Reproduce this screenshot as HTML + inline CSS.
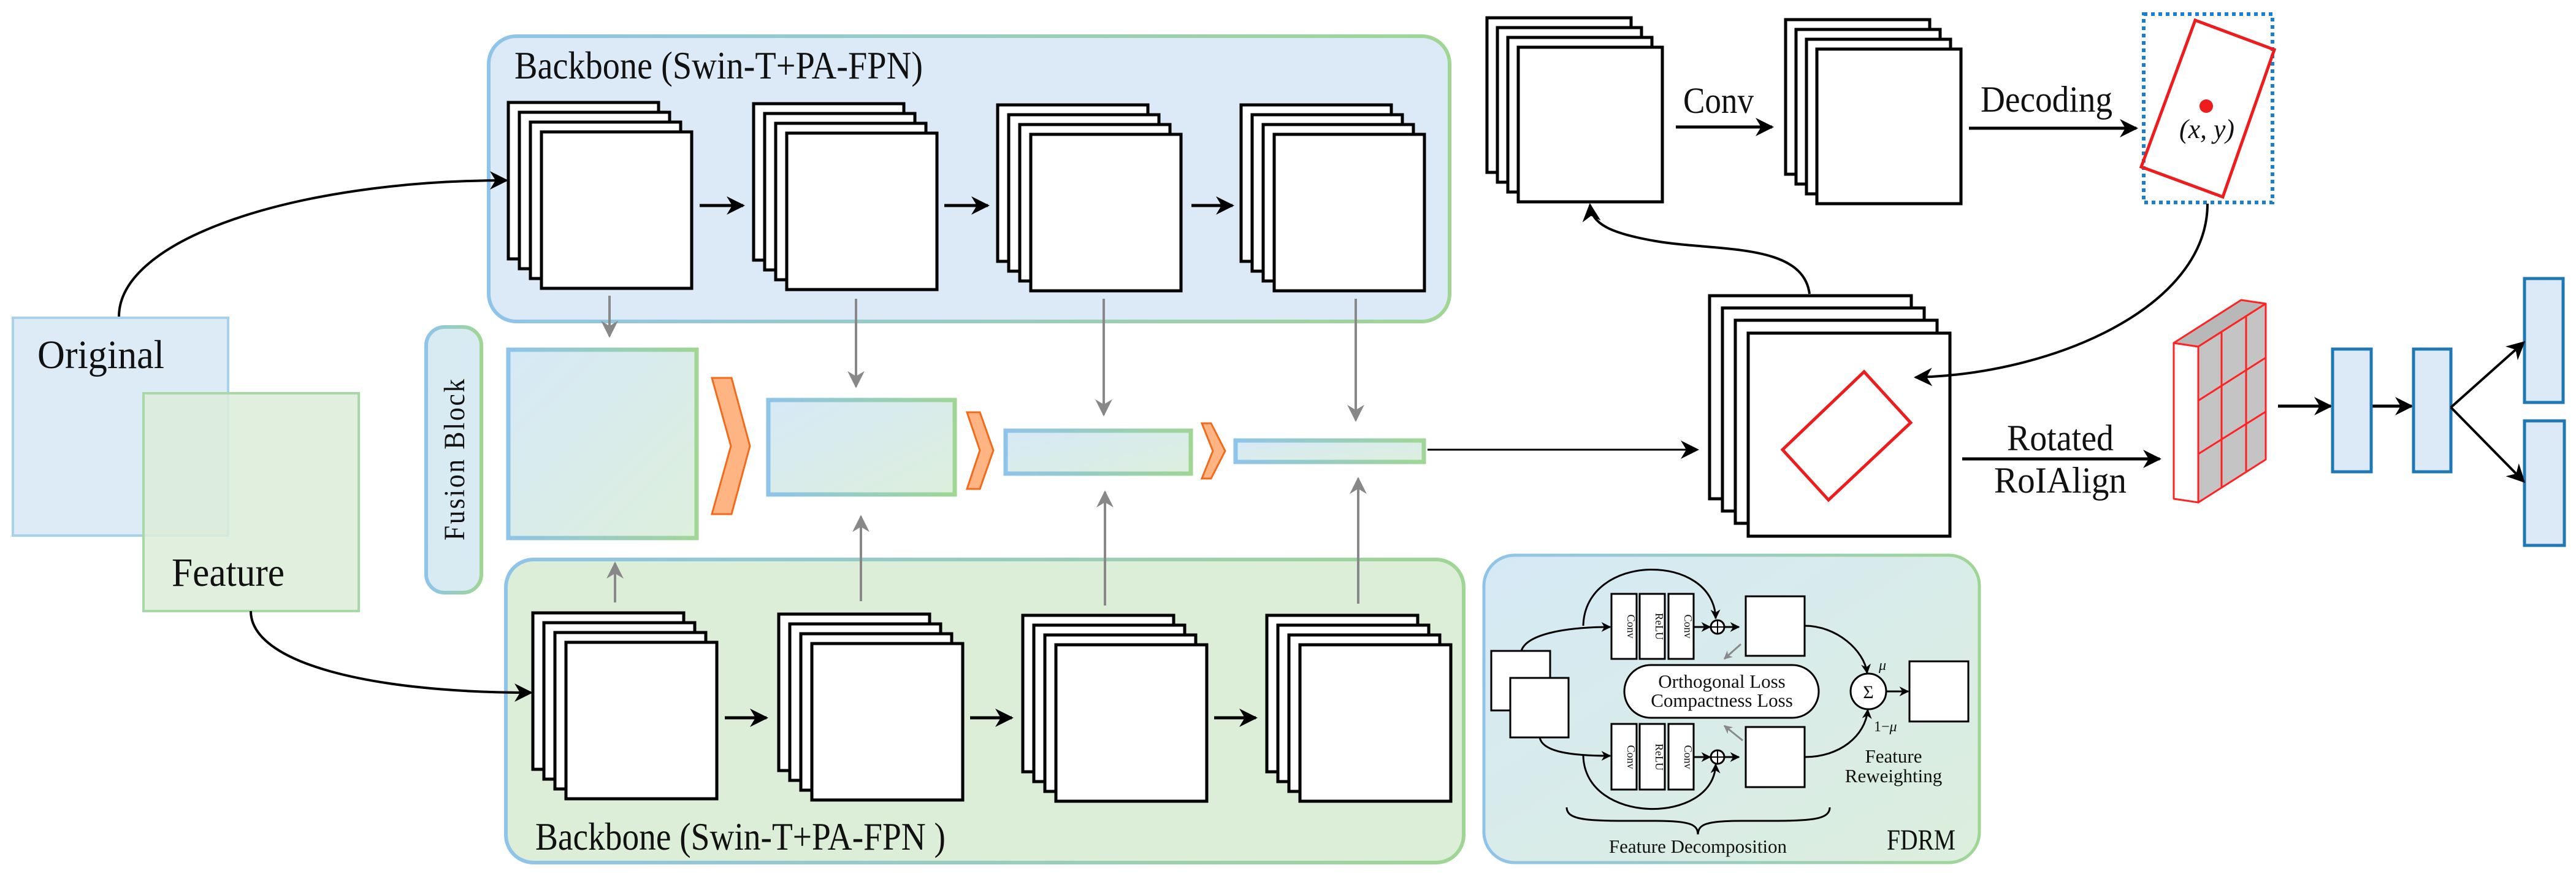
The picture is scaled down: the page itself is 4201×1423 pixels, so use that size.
<!DOCTYPE html>
<html><head><meta charset="utf-8"><style>
html,body{margin:0;padding:0;background:#fff;}
svg{display:block;}
svg text{font-family:"Liberation Serif","DejaVu Serif",serif;fill:#111;}
</style></head><body>
<svg width="4201" height="1423" viewBox="0 0 4201 1423" xmlns="http://www.w3.org/2000/svg" font-family="'Liberation Serif', 'DejaVu Serif', serif">
<defs>
<linearGradient id="bg" x1="0" y1="0" x2="1" y2="0"><stop offset="0" stop-color="#8fc4ea"/><stop offset="1" stop-color="#9fd694"/></linearGradient>
<linearGradient id="fillF" x1="0" y1="0" x2="1" y2="1"><stop offset="0" stop-color="#d6e9f7"/><stop offset="1" stop-color="#ddefdc"/></linearGradient>
<linearGradient id="fdrm" x1="0" y1="0" x2="1" y2="1"><stop offset="0" stop-color="#d5e9f6"/><stop offset="1" stop-color="#dceedc"/></linearGradient>
<marker id="ahb" viewBox="0 0 10 10" refX="9" refY="5" markerWidth="30" markerHeight="30" orient="auto" markerUnits="userSpaceOnUse"><path d="M0,0 L10,5 L0,10 L3,5 z" fill="#000"/></marker>
<marker id="ahs" viewBox="0 0 10 10" refX="9" refY="5" markerWidth="16" markerHeight="16" orient="auto" markerUnits="userSpaceOnUse"><path d="M0,0 L10,5 L0,10 L3,5 z" fill="#000"/></marker>
<marker id="ahg" viewBox="0 0 10 10" refX="9" refY="5" markerWidth="28" markerHeight="28" orient="auto" markerUnits="userSpaceOnUse"><path d="M0,0 L10,5 L0,10 L3,5 z" fill="#888"/></marker>
<marker id="ahgs" viewBox="0 0 10 10" refX="9" refY="5" markerWidth="14" markerHeight="14" orient="auto" markerUnits="userSpaceOnUse"><path d="M0,0 L10,5 L0,10 L3,5 z" fill="#888"/></marker>
</defs>

<rect x="797" y="59" width="1567" height="465" rx="45" fill="#dbeaf6" stroke="url(#bg)" stroke-width="6"/>
<rect x="825" y="912" width="1562" height="494" rx="45" fill="#dcedd8" stroke="url(#bg)" stroke-width="6"/>
<text x="839" y="128" font-size="64" textLength="666" lengthAdjust="spacingAndGlyphs">Backbone (Swin-T+PA-FPN)</text>
<text x="873" y="1385" font-size="64" textLength="669" lengthAdjust="spacingAndGlyphs">Backbone (Swin-T+PA-FPN )</text>

<g fill="#fff" stroke="#000" stroke-width="5">
<rect x="829" y="167" width="245" height="255"/><rect x="847" y="183" width="245" height="255"/><rect x="865" y="199" width="245" height="255"/><rect x="883" y="215" width="245" height="255"/>
<rect x="1229" y="169" width="245" height="255"/><rect x="1247" y="185" width="245" height="255"/><rect x="1265" y="201" width="245" height="255"/><rect x="1283" y="217" width="245" height="255"/>
<rect x="1627" y="171" width="245" height="255"/><rect x="1645" y="187" width="245" height="255"/><rect x="1663" y="203" width="245" height="255"/><rect x="1681" y="219" width="245" height="255"/>
<rect x="2024" y="171" width="245" height="255"/><rect x="2042" y="187" width="245" height="255"/><rect x="2060" y="203" width="245" height="255"/><rect x="2078" y="219" width="245" height="255"/>
<rect x="869" y="999" width="246" height="255"/><rect x="887" y="1015" width="246" height="255"/><rect x="905" y="1031" width="246" height="255"/><rect x="923" y="1047" width="246" height="255"/>
<rect x="1270" y="1001" width="246" height="255"/><rect x="1288" y="1017" width="246" height="255"/><rect x="1306" y="1033" width="246" height="255"/><rect x="1324" y="1049" width="246" height="255"/>
<rect x="1668" y="1003" width="246" height="255"/><rect x="1686" y="1019" width="246" height="255"/><rect x="1704" y="1035" width="246" height="255"/><rect x="1722" y="1051" width="246" height="255"/>
<rect x="2066" y="1003" width="246" height="255"/><rect x="2084" y="1019" width="246" height="255"/><rect x="2102" y="1035" width="246" height="255"/><rect x="2120" y="1051" width="246" height="255"/>
</g>
<g stroke="#000" stroke-width="5" marker-end="url(#ahb)">
<line x1="1141" y1="335" x2="1212" y2="335"/><line x1="1540" y1="335" x2="1611" y2="335"/><line x1="1943" y1="335" x2="2010" y2="335"/>
<line x1="1182" y1="1170" x2="1250" y2="1170"/><line x1="1582" y1="1170" x2="1650" y2="1170"/><line x1="1980" y1="1170" x2="2048" y2="1170"/>
</g>

<rect x="21" y="518" width="351" height="355" fill="#dcebf6" stroke="#a8d2ec" stroke-width="4"/>
<rect x="234" y="641" width="351" height="355" fill="#dcedd8" fill-opacity="0.85" stroke="#a6d9a6" stroke-width="4"/>
<text x="61" y="600" font-size="66" textLength="207" lengthAdjust="spacingAndGlyphs">Original</text>
<text x="280" y="955" font-size="66" textLength="184" lengthAdjust="spacingAndGlyphs">Feature</text>
<path d="M194,516 C194,390 480,294 826,294" fill="none" stroke="#000" stroke-width="4" marker-end="url(#ahb)"/>
<path d="M409,996 C409,1080 600,1129 866,1129" fill="none" stroke="#000" stroke-width="4" marker-end="url(#ahb)"/>

<rect x="695" y="533" width="90" height="433" rx="30" fill="#d9ebf2" stroke="url(#bg)" stroke-width="6"/>
<text x="0" y="0" font-size="48" letter-spacing="3" text-anchor="middle" transform="translate(757,748) rotate(-90)" textLength="266" lengthAdjust="spacingAndGlyphs">Fusion Block</text>

<g fill="url(#fillF)" stroke="url(#bg)" stroke-width="7">
<rect x="829" y="570" width="307" height="307"/>
<rect x="1253" y="652" width="304" height="154"/>
<rect x="1640" y="702" width="302" height="70"/>
<rect x="2015" y="718" width="307" height="35"/>
</g>
<g fill="#ffb583" stroke="#f26a1b" stroke-width="3">
<polygon points="1161,616 1193,616 1223,727 1193,838 1161,838 1192,727"/>
<polygon points="1577,672 1598,672 1620,734 1598,797 1577,797 1598,734"/>
<polygon points="1960,690 1975,690 1998,735 1975,780 1960,780 1978,735"/>
</g>
<g stroke="#888" stroke-width="4" marker-end="url(#ahg)">
<line x1="994" y1="482" x2="994" y2="548"/>
<line x1="1396" y1="487" x2="1396" y2="630"/>
<line x1="1800" y1="487" x2="1800" y2="676"/>
<line x1="2211" y1="487" x2="2211" y2="685"/>
<line x1="1003" y1="982" x2="1003" y2="918"/>
<line x1="1404" y1="980" x2="1404" y2="842"/>
<line x1="1802" y1="987" x2="1802" y2="802"/>
<line x1="2215" y1="984" x2="2215" y2="780"/>
</g>
<line x1="2328" y1="733" x2="2768" y2="733" stroke="#000" stroke-width="3" marker-end="url(#ahb)"/>

<g fill="#fff" stroke="#000" stroke-width="5">
<rect x="2425" y="29" width="235" height="252"/><rect x="2442" y="45" width="235" height="252"/><rect x="2459" y="61" width="235" height="252"/><rect x="2476" y="77" width="235" height="252"/>
<rect x="2912" y="32" width="235" height="252"/><rect x="2929" y="48" width="235" height="252"/><rect x="2946" y="64" width="235" height="252"/><rect x="2963" y="80" width="235" height="252"/>
<rect x="2788" y="482" width="329" height="331"/><rect x="2809" y="502" width="329" height="331"/><rect x="2830" y="522" width="329" height="331"/><rect x="2851" y="543" width="329" height="331"/>
</g>
<polygon points="3040,606 3116,689 2982,815 2907,733" fill="none" stroke="#ee1c1c" stroke-width="5"/>
<line x1="2733" y1="207" x2="2890" y2="207" stroke="#000" stroke-width="5" marker-end="url(#ahb)"/>
<text x="2745" y="184" font-size="60" textLength="115" lengthAdjust="spacingAndGlyphs">Conv</text>
<line x1="3211" y1="209" x2="3484" y2="209" stroke="#000" stroke-width="5" marker-end="url(#ahb)"/>
<text x="3230" y="182" font-size="60" textLength="215" lengthAdjust="spacingAndGlyphs">Decoding</text>
<rect x="3496" y="23" width="210" height="307" fill="none" stroke="#1a7fd0" stroke-width="6" stroke-dasharray="6,6"/>
<polygon points="3580,33 3709,81 3625,321 3492,272" fill="none" stroke="#ee1c1c" stroke-width="5"/>
<circle cx="3598" cy="173" r="11" fill="#ee1c1c"/>
<text x="3554" y="225" font-size="44" font-style="italic" textLength="90" lengthAdjust="spacingAndGlyphs">(x, y)</text>
<path d="M3600,332 C3600,500 3350,610 3124,615" fill="none" stroke="#000" stroke-width="4" marker-end="url(#ahb)"/>
<path d="M2951,479 C2940,395 2800,410 2700,393 C2625,380 2596,365 2593,334" fill="none" stroke="#000" stroke-width="4" marker-end="url(#ahb)"/>
<line x1="3200" y1="748" x2="3522" y2="748" stroke="#000" stroke-width="5" marker-end="url(#ahb)"/>
<text x="3273" y="734" font-size="60" textLength="174" lengthAdjust="spacingAndGlyphs">Rotated</text>
<text x="3252" y="803" font-size="60" textLength="216" lengthAdjust="spacingAndGlyphs">RoIAlign</text>

<g stroke="#f22" stroke-width="3" stroke-linejoin="round">
<polygon points="3545,559 3585,565 3585,819 3545,813" fill="#fff"/>
<polygon points="3545,559 3655,489 3695,495 3585,565" fill="#b8b8b8"/>
<polygon points="3585,565 3695,495 3695,749 3585,819" fill="#c4c4c4"/>
<line x1="3623" y1="541" x2="3623" y2="795"/>
<line x1="3663" y1="516" x2="3663" y2="770"/>
<line x1="3585" y1="653" x2="3695" y2="583"/>
<line x1="3585" y1="740" x2="3695" y2="671"/>
</g>
<line x1="3715" y1="662" x2="3801" y2="662" stroke="#000" stroke-width="5" marker-end="url(#ahb)"/>
<line x1="3868" y1="662" x2="3933" y2="662" stroke="#000" stroke-width="5" marker-end="url(#ahb)"/>
<g fill="#dbeaf6" stroke="#1f78b4" stroke-width="5">
<rect x="3804" y="569" width="63" height="200"/>
<rect x="3936" y="569" width="61" height="200"/>
<rect x="4117" y="454" width="63" height="202"/>
<rect x="4117" y="686" width="65" height="203"/>
</g>
<line x1="3997" y1="664" x2="4116" y2="558" stroke="#000" stroke-width="4" marker-end="url(#ahb)"/>
<line x1="3997" y1="664" x2="4116" y2="785" stroke="#000" stroke-width="4" marker-end="url(#ahb)"/>

<rect x="2420" y="905" width="808" height="501" rx="50" fill="url(#fdrm)" stroke="url(#bg)" stroke-width="5"/>
<g fill="#fff" stroke="#000" stroke-width="3">
<rect x="2432" y="1061" width="96" height="97"/>
<rect x="2463" y="1105" width="95" height="97"/>
<rect x="2628" y="968" width="41" height="106"/><rect x="2674" y="968" width="41" height="106"/><rect x="2721" y="968" width="41" height="106"/>
<rect x="2628" y="1180" width="41" height="107"/><rect x="2674" y="1180" width="41" height="107"/><rect x="2721" y="1180" width="41" height="107"/>
<rect x="2847" y="972" width="96" height="97"/>
<rect x="2847" y="1185" width="96" height="98"/>
<rect x="3114" y="1078" width="96" height="98"/>
<rect x="2649" y="1084" width="317" height="86" rx="43"/>
<circle cx="3047" cy="1127" r="29"/>
<circle cx="2801" cy="1022" r="11"/><circle cx="2801" cy="1234" r="11"/>
</g>
<g stroke="#000" stroke-width="2">
<line x1="2790" y1="1022" x2="2812" y2="1022"/><line x1="2801" y1="1011" x2="2801" y2="1033"/>
<line x1="2790" y1="1234" x2="2812" y2="1234"/><line x1="2801" y1="1223" x2="2801" y2="1245"/>
</g>
<g font-size="18" text-anchor="middle">
<text transform="translate(2654,1021) rotate(90)">Conv</text>
<text transform="translate(2700,1021) rotate(90)">ReLU</text>
<text transform="translate(2747,1021) rotate(90)">Conv</text>
<text transform="translate(2654,1234) rotate(90)">Conv</text>
<text transform="translate(2700,1234) rotate(90)">ReLU</text>
<text transform="translate(2747,1234) rotate(90)">Conv</text>
</g>
<g fill="none" stroke="#000" stroke-width="3" marker-end="url(#ahs)">
<path d="M2481,1061 C2490,1032 2560,1022 2626,1022"/>
<path d="M2582,1020 C2585,900 2795,900 2798,1008"/>
<path d="M2511,1202 C2515,1225 2560,1232 2626,1232"/>
<path d="M2582,1232 C2585,1345 2795,1345 2798,1246"/>
<line x1="2762" y1="1022" x2="2789" y2="1022"/><line x1="2812" y1="1022" x2="2836" y2="1022"/>
<line x1="2762" y1="1234" x2="2789" y2="1234"/><line x1="2812" y1="1234" x2="2836" y2="1234"/>
<path d="M2943,1020 C2995,1020 3040,1060 3045,1097"/>
<path d="M2943,1234 C3000,1234 3042,1200 3046,1157"/>
<line x1="3076" y1="1127" x2="3112" y2="1127"/>
</g>
<g stroke="#888" stroke-width="3" marker-end="url(#ahgs)">
<line x1="2839" y1="1050" x2="2812" y2="1074"/>
<line x1="2842" y1="1207" x2="2812" y2="1183"/>
</g>
<path d="M2555,1316 C2555,1340 2600,1338 2700,1338 C2760,1338 2768,1345 2769,1360 C2770,1345 2778,1338 2840,1338 C2940,1338 2984,1340 2984,1316" fill="none" stroke="#000" stroke-width="3"/>
<g font-size="31" text-anchor="middle">
<text x="2808" y="1121">Orthogonal Loss</text>
<text x="2808" y="1152">Compactness Loss</text>
<text x="3088" y="1243">Feature</text>
<text x="3088" y="1275">Reweighting</text>
<text x="2769" y="1390">Feature Decomposition</text>
<text x="3047" y="1138" font-size="30">Σ</text>
</g>
<text x="3064" y="1092" font-size="24" font-style="italic">μ</text>
<text x="3056" y="1192" font-size="24">1−<tspan font-style="italic">μ</tspan></text>
<text x="3077" y="1385" font-size="48" textLength="112" lengthAdjust="spacingAndGlyphs">FDRM</text>
</svg>
</body></html>
